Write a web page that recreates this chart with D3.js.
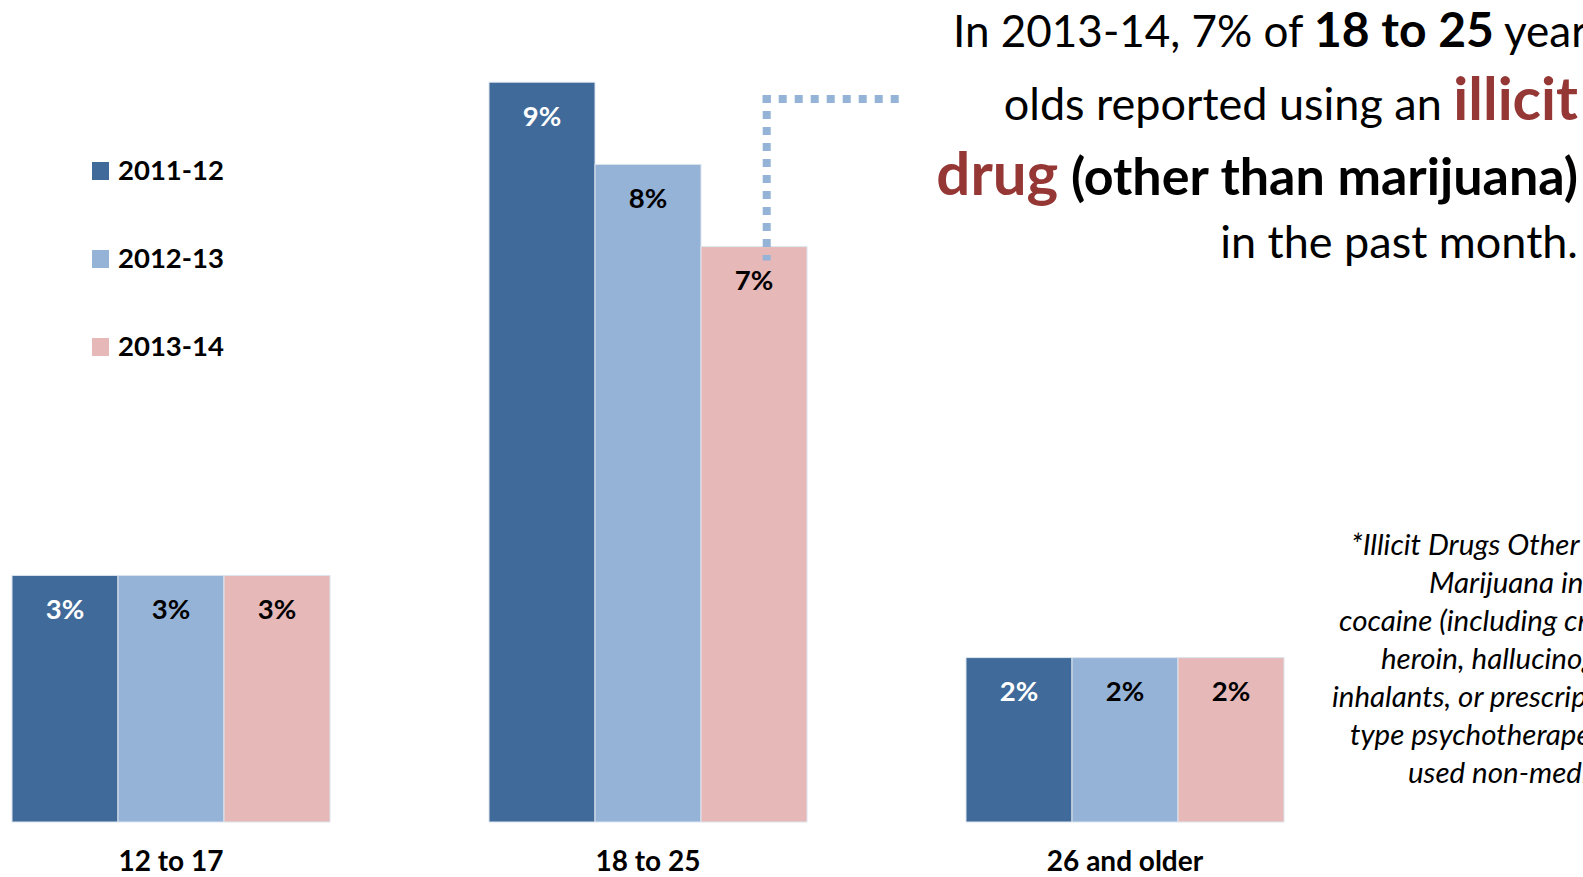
<!DOCTYPE html>
<html>
<head>
<meta charset="utf-8">
<script src="https://cdn.jsdelivr.net/npm/d3@7"></script>
<style>
  html, body { margin: 0; padding: 0; background: #fff; }
  svg { display: block; overflow: hidden; font-family: Lato, "Open Sans", sans-serif; }
</style>
</head>
<body>
<svg id="chart" width="1583" height="877"></svg>
<script>
// Past-month use of illicit drugs other than marijuana, by age group (%)
const categories = ["12 to 17", "18 to 25", "26 and older"];
const seriesNames = ["2011-12", "2012-13", "2013-14"];
const values2011 = [3, 9, 2];
const values2012 = [3, 8, 2];
const values2013 = [3, 7, 2];
const seriesValues = [values2011, values2012, values2013];
const seriesColors = ["#3F6A9A", "#95B3D7", "#E6B8B7"];
const labelColors = ["#ffffff", "#000000", "#000000"];

const highlightCategory = "18 to 25";
const highlightSeries = "2013-14";

const footnoteLines = [
  "*Illicit Drugs Other Than",
  "Marijuana include",
  "cocaine (including crack),",
  "heroin, hallucinogens,",
  "inhalants, or prescription-",
  "type psychotherapeutics",
  "used non-medically."
];

const svg = d3.select("#chart");

// Scales
const x0 = d3.scaleBand().domain(categories).range([12, 1284]).paddingInner(1 / 3).paddingOuter(0);
const x1 = d3.scaleBand().domain(seriesNames).range([0, x0.bandwidth()]);
const y = d3.scaleLinear().domain([0, 10]).range([822, 0]);

// Flatten into bar records
const bars = [];
categories.forEach((c, ci) => {
  seriesNames.forEach((s, si) => {
    bars.push({ category: c, series: s, si, value: seriesValues[si][ci] });
  });
});

// Bars
const groups = svg.append("g").attr("class", "bars");
groups.selectAll("rect")
  .data(bars)
  .join("rect")
  .attr("x", d => x0(d.category) + x1(d.series))
  .attr("y", d => y(d.value))
  .attr("width", x1.bandwidth())
  .attr("height", d => y(0) - y(d.value))
  .attr("fill", d => seriesColors[d.si])
  .attr("stroke", "#dde5ee")
  .attr("stroke-width", 1);

// Value labels inside the top of each bar
groups.selectAll("text")
  .data(bars)
  .join("text")
  .attr("x", d => x0(d.category) + x1(d.series) + x1.bandwidth() / 2)
  .attr("y", d => y(d.value) + 43.5)
  .attr("text-anchor", "middle")
  .attr("font-size", 27.5)
  .attr("font-weight", 700)
  .attr("fill", d => labelColors[d.si])
  .text(d => d.value + "%");

// Category axis
const xAxis = svg.append("g")
  .attr("transform", `translate(0,${y(0)})`)
  .call(d3.axisBottom(x0).tickSize(0));
xAxis.select(".domain").remove();
xAxis.selectAll("text")
  .attr("y", 48.5)
  .attr("dy", 0)
  .attr("fill", "#000")
  .attr("font-family", "Lato, sans-serif")
  .attr("font-size", 28)
  .attr("font-weight", 700);

// Legend
const legend = svg.append("g").attr("class", "legend");
const legendItems = legend.selectAll("g")
  .data(seriesNames)
  .join("g")
  .attr("transform", (d, i) => `translate(92,${162 + i * 88})`);
legendItems.append("rect")
  .attr("width", 17)
  .attr("height", 18)
  .attr("fill", (d, i) => seriesColors[i]);
legendItems.append("text")
  .attr("x", 26)
  .attr("y", 18)
  .attr("font-size", 27.5)
  .attr("font-weight", 700)
  .attr("fill", "#000")
  .text(d => d);

// Dotted leader from the highlighted bar to the headline
const hx = x0(highlightCategory) + x1(highlightSeries) + x1.bandwidth() * 0.62;
const hi = categories.indexOf(highlightCategory);
const hy = y(values2013[hi]) + 14;
const leader = svg.append("g")
  .attr("stroke", "#95B3D7")
  .attr("stroke-width", 8)
  .attr("stroke-dasharray", "8 8")
  .attr("fill", "none");
leader.append("line").attr("x1", hx).attr("y1", 95).attr("x2", hx).attr("y2", hy);
leader.append("line").attr("x1", hx - 4).attr("y1", 99).attr("x2", 905).attr("y2", 99);

// Headline
const headline = svg.append("g").attr("fill", "#000");
const l1 = headline.append("text").attr("x", 953).attr("y", 47).attr("font-size", 44);
l1.append("tspan").text("In 2013-14, 7% of ");
l1.append("tspan").attr("font-weight", 700).attr("font-size", 48).text("18 to 25");
l1.append("tspan").text(" years");

const l2 = headline.append("text").attr("x", 1578).attr("y", 120).attr("text-anchor", "end").attr("font-size", 45);
l2.append("tspan").text("olds reported using an ");
l2.append("tspan").attr("font-weight", 700).attr("font-size", 59).attr("fill", "#953735").text("illicit");

const l3 = headline.append("text").attr("x", 1578).attr("y", 195).attr("text-anchor", "end").attr("font-weight", 700);
l3.append("tspan").attr("font-size", 60).attr("fill", "#953735").text("drug");
l3.append("tspan").attr("font-size", 52).text(" (other than marijuana)");

headline.append("text").attr("x", 1578).attr("y", 258).attr("text-anchor", "end").attr("font-size", 45)
  .text("in the past month.");

// Footnote
const footStarts = [1351, 1429, 1339, 1381, 1332, 1350, 1408];
svg.append("g").attr("class", "footnote")
  .selectAll("text")
  .data(footnoteLines)
  .join("text")
  .attr("x", (d, i) => footStarts[i])
  .attr("y", (d, i) => 555 + i * 38)
  .attr("font-size", 29.5)
  .attr("font-style", "italic")
  .attr("fill", "#000")
  .text(d => d);
</script>
</body>
</html>
